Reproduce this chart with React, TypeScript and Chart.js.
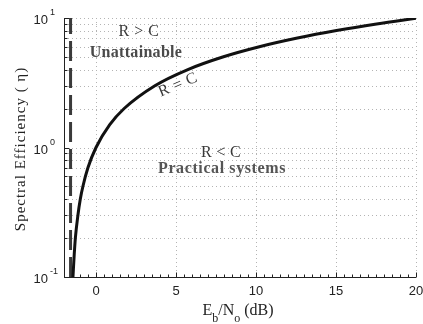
import React, { useEffect, useRef } from "react";
import { Chart, registerables } from "chart.js";

Chart.register(...registerables);

// Spectral efficiency (bit/s/Hz) along the capacity boundary R = C
const efficiency = [0.1, 0.15, 0.2, 0.3, 0.4, 0.5, 0.7, 1, 1.5, 2, 3, 4, 5, 6, 7, 8, 9, 10];
// Corresponding Eb/No in dB
const ebNoDb = [-1.44, -1.36, -1.29, -1.13, -0.98, -0.82, -0.5, 0, 0.86, 1.76, 3.68, 5.74, 7.92, 10.21, 12.59, 15.03, 17.54, 20.1];
// Shannon limit (dB)
const shannonLimit = -1.59;

const xTicks = [0, 5, 10, 15, 20];
const yMajor = [0.1, 1, 10];
const yExponents = ["-1", "0", "1"];

const SERIF = "'Liberation Serif', 'DejaVu Serif', serif";
const SANS = "'Liberation Sans', Arial, sans-serif";

const decorPlugin = {
  id: "decor",
  beforeDatasetsDraw(chart: any) {
    const { ctx, chartArea: a, scales } = chart;
    const xs = scales.x;
    const ys = scales.y;
    ctx.save();
    // dotted grid
    ctx.strokeStyle = "#b4b4b4";
    ctx.lineWidth = 1;
    ctx.setLineDash([1, 3]);
    const yGrid: number[] = [];
    for (let d = 0.1; d < 10; d *= 10) {
      for (let k = 1; k <= 9; k++) yGrid.push(+(d * k).toFixed(3));
    }
    yGrid.push(10);
    for (const v of yGrid) {
      const py = Math.round(ys.getPixelForValue(v)) + 0.5;
      ctx.beginPath();
      ctx.moveTo(a.left, py);
      ctx.lineTo(a.right, py);
      ctx.stroke();
    }
    for (const v of xTicks) {
      const px = Math.round(xs.getPixelForValue(v)) + 0.5;
      ctx.beginPath();
      ctx.moveTo(px, a.top);
      ctx.lineTo(px, a.bottom);
      ctx.stroke();
    }
    ctx.setLineDash([]);
    // axes
    ctx.strokeStyle = "#222";
    ctx.lineWidth = 1;
    const left = Math.round(a.left) + 0.5;
    const bottom = Math.round(a.bottom) + 0.5;
    ctx.beginPath();
    ctx.moveTo(left, a.top);
    ctx.lineTo(left, bottom);
    ctx.lineTo(a.right, bottom);
    ctx.stroke();
    // y ticks
    for (const v of yGrid) {
      const py = Math.round(ys.getPixelForValue(v)) + 0.5;
      const major = yMajor.includes(v);
      ctx.beginPath();
      ctx.moveTo(left, py);
      ctx.lineTo(left + (major ? 5 : 3), py);
      ctx.stroke();
    }
    // x ticks
    for (let v = -2; v <= 20.001; v += 0.5) {
      const px = Math.round(xs.getPixelForValue(v)) + 0.5;
      const major = xTicks.includes(v);
      ctx.beginPath();
      ctx.moveTo(px, bottom);
      ctx.lineTo(px, bottom - (major ? 5 : 3));
      ctx.stroke();
    }
    ctx.restore();
  },
  afterDraw(chart: any) {
    const { ctx, chartArea: a, scales } = chart;
    const xs = scales.x;
    const ys = scales.y;
    ctx.save();
    ctx.fillStyle = "#222";
    // x tick labels
    ctx.font = `13px ${SANS}`;
    ctx.textAlign = "center";
    ctx.textBaseline = "alphabetic";
    for (const v of xTicks) {
      ctx.fillText(String(v), xs.getPixelForValue(v), a.bottom + 18);
    }
    // y tick labels: "10" with a raised exponent
    yMajor.forEach((v, i) => {
      const py = ys.getPixelForValue(v);
      ctx.font = `9px ${SANS}`;
      ctx.textAlign = "left";
      ctx.fillText(yExponents[i], 50, py - 3);
      ctx.font = `13px ${SANS}`;
      ctx.textAlign = "right";
      ctx.fillText("10", 48, py + 6);
    });
    // x axis title: Eb/No (dB)
    ctx.fillStyle = "#222";
    const parts: [string, number, number][] = [
      ["E", 16, 0],
      ["b", 12, 7],
      ["/N", 16, 0],
      ["o", 12, 7],
      [" (dB)", 16, 0],
    ];
    let total = 0;
    for (const [t, s] of parts) {
      ctx.font = `${s}px ${SERIF}`;
      total += ctx.measureText(t).width;
    }
    let cx = 238 - total / 2;
    const baseY = a.bottom + 38;
    ctx.textAlign = "left";
    for (const [t, s, dy] of parts) {
      ctx.font = `${s}px ${SERIF}`;
      ctx.fillText(t, cx, baseY + dy);
      cx += ctx.measureText(t).width;
    }
    // y axis title
    ctx.save();
    ctx.translate(25, 149);
    ctx.rotate(-Math.PI / 2);
    ctx.textAlign = "center";
    ctx.font = `15px ${SERIF}`;
    (ctx as any).letterSpacing = "1px";
    ctx.fillText("Spectral Efficiency ( \u03b7)", 0, 0);
    ctx.restore();
    // region annotations
    ctx.textAlign = "center";
    ctx.textBaseline = "middle";
    ctx.fillStyle = "#3a3a3a";
    ctx.font = `16px ${SERIF}`;
    (ctx as any).letterSpacing = "0.5px";
    ctx.fillText("R > C", 139, 32);
    ctx.fillStyle = "#4a4a4a";
    ctx.font = `bold 16px ${SERIF}`;
    (ctx as any).letterSpacing = "0.3px";
    ctx.fillText("Unattainable", 136, 53);
    ctx.fillStyle = "#3a3a3a";
    ctx.font = `16px ${SERIF}`;
    (ctx as any).letterSpacing = "0.3px";
    ctx.fillText("R < C", 221, 153);
    ctx.fillStyle = "#555";
    ctx.font = `bold 16px ${SERIF}`;
    (ctx as any).letterSpacing = "0.6px";
    ctx.fillText("Practical systems", 222, 169);
    ctx.save();
    ctx.fillStyle = "#3a3a3a";
    ctx.translate(178, 85);
    ctx.rotate(-0.4);
    ctx.font = `16px ${SERIF}`;
    (ctx as any).letterSpacing = "0.5px";
    ctx.fillText("R = C", 0, 0);
    ctx.restore();
    ctx.restore();
  },
};

export default function App() {
  const ref = useRef<HTMLCanvasElement | null>(null);
  useEffect(() => {
    if (!ref.current) return;
    const curve = efficiency.map((y, i) => ({ x: ebNoDb[i], y }));
    const limit = [
      { x: shannonLimit, y: 0.1 },
      { x: shannonLimit, y: 10 },
    ];
    const chart = new Chart(ref.current, {
      type: "scatter",
      data: {
        datasets: [
          {
            data: curve,
            showLine: true,
            borderColor: "#111",
            borderWidth: 3,
            pointRadius: 0,
            cubicInterpolationMode: "monotone",
          } as any,
          {
            data: limit,
            showLine: true,
            borderColor: "#3a3a3a",
            borderWidth: 3,
            borderDash: [20, 7],
            pointRadius: 0,
          } as any,
        ],
      },
      options: {
        animation: false,
        responsive: false,
        layout: { padding: { left: 64, right: 7, top: 18, bottom: 47 } },
        plugins: { legend: { display: false }, tooltip: { enabled: false } },
        scales: {
          x: { type: "linear", min: -2, max: 20, display: false },
          y: { type: "logarithmic", min: 0.1, max: 10, display: false },
        },
      },
      plugins: [decorPlugin],
    });
    return () => chart.destroy();
  }, []);
  return (
    <div style={{ position: "fixed", left: 0, top: 0, width: 423, height: 324, background: "#fff" }}>
      <canvas ref={ref} width={423} height={324} style={{ width: 423, height: 324 }} />
    </div>
  );
}
